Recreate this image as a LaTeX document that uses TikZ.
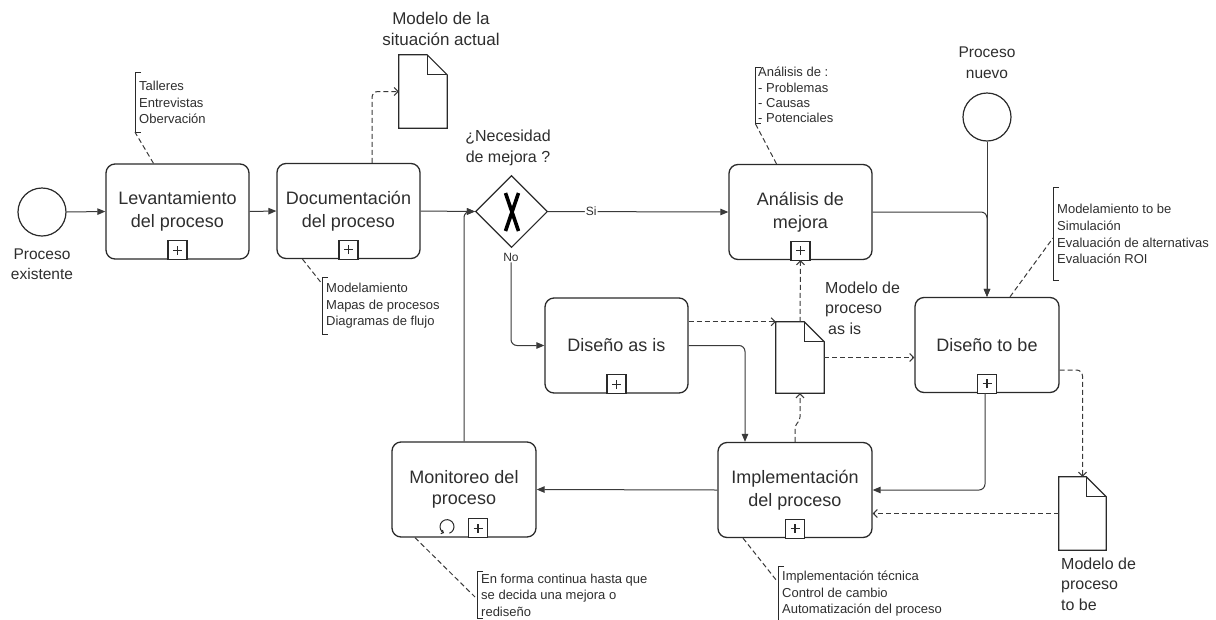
\documentclass[tikz,border=0pt]{standalone}
\usepackage{fontspec}
\setmainfont{Liberation Sans}
\usetikzlibrary{arrows.meta,shapes.geometric,calc}
\definecolor{lc}{HTML}{3A3A3A}
\definecolor{bc}{HTML}{2A2A2A}
\definecolor{tc}{HTML}{2E2E2E}
\newcommand{\plusmk}[2][0]{%
  \draw[bc,line width=1.1pt,fill=white] ($(#2.south)+(#1-9.5,0)$) rectangle ($(#2.south)+(#1+9.5,-19)$);
  \draw[bc,line width=1.1pt] ($(#2.south)+(#1-4.5,-9.5)$) -- ($(#2.south)+(#1+4.5,-9.5)$)
                              ($(#2.south)+(#1,-5)$) -- ($(#2.south)+(#1,-14)$);}
\newcommand{\docfold}[1]{%
  \draw[bc,line width=1.2pt,line join=miter] (#1.north west) -- ($(#1.north east)+(-20,0)$) -- ($(#1.north east)+(0,20)$) -- (#1.south east) -- (#1.south west) -- cycle;
  \draw[bc,line width=1.2pt] ($(#1.north east)+(-20,0)$) -- ($(#1.north east)+(-20,20)$) -- ($(#1.north east)+(0,20)$);}
\newcommand{\brk}[1]{%
  \draw[bc,line width=1pt] ($(#1.north west)+(6,0)$) -- (#1.north west) -- (#1.south west) -- ++(6,0);}
\begin{document}
\begin{tikzpicture}[x=1pt,y=-1pt,
  task/.style={draw=bc,line width=1.3pt,rounded corners=9pt,minimum width=143pt,minimum height=95pt,
    align=center,inner sep=0pt,text=tc,font=\fontsize{18}{23}\selectfont},
  event/.style={circle,draw=bc,line width=1.2pt,minimum size=48pt,inner sep=0pt},
  gate/.style={diamond,draw=bc,line width=1.1pt,minimum width=72pt,minimum height=72pt,inner sep=0pt},
  docnode/.style={minimum width=48pt,minimum height=73pt,inner sep=0pt},
  lbl/.style={align=center,text=tc,inner sep=0pt,font=\fontsize{16}{20.5}\selectfont},
  small/.style={text=tc,inner sep=1pt,font=\fontsize{12}{14}\selectfont},
  ann/.style={align=left,anchor=west,text=tc,inner xsep=4pt,inner ysep=0pt,font=\fontsize{13}{16.5}\selectfont},
  flow/.style={draw=lc,line width=1pt,rounded corners=6pt,-{Triangle[length=8pt,width=6.5pt]}},
  assoc/.style={draw=lc,line width=1pt,rounded corners=6pt,dash pattern=on 5pt off 3pt,-{Straight Barb[length=4pt,width=8pt]}},
  annline/.style={draw=lc,line width=1pt,dash pattern=on 5pt off 3pt}]
\useasboundingbox (0,0) rectangle (1216,619);

% events
\node[event] (ps) at (42,212) {};
\node[lbl,font=\fontsize{15.5}{20}\selectfont] (lps) at (42,264) {Proceso\\existente};
\node[event] (pn) at (987,117) {};
\node[lbl,font=\fontsize{15.5}{21}\selectfont] (lpn) at (987,63) {Proceso\\nuevo};

% tasks
\node[task] (lev) at (177.5,211.5) {Levantamiento\\del proceso};
\node[task] (doc) at (348.5,211) {Documentación\\del proceso};
\node[task] (ana) at (800.5,212) {Análisis de\\mejora};
\node[task] (asis) at (616.5,345.5) {Diseño as is};
\node[task,minimum width=144pt] (tobe) at (987,345) {Diseño to be};
\node[task,minimum width=154pt] (impl) at (795,490) {Implementación\\del proceso};
\node[task,minimum width=144pt,font=\fontsize{18}{21}\selectfont] (mon) at (464,489.5) {Monitoreo del\\proceso};
\plusmk{lev}\plusmk{doc}\plusmk{ana}\plusmk{asis}\plusmk{tobe}\plusmk{impl}\plusmk[14]{mon}
\draw[bc,line width=1pt,-{Straight Barb[length=2pt,width=4pt]}] ($(mon.south)+(-17,-11)+(70:7)$) arc[start angle=70,end angle=-245,radius=7];

% gateway
\node[gate] (gw) at (511.5,211.5) {};
\draw[black,line width=3.6pt] (505.5,193) -- (518.5,231) (518.5,193) -- (505.5,231);
\node[lbl] (lgw) at (508,148) {¿Necesidad\\de mejora ?};
\node[small] (lno) at (511,257) {No};

% documents
\node[docnode] (docA) at (423,91.5) {};
\node[docnode,minimum height=71pt] (docB) at (800,357.5) {};
\node[docnode,minimum width=47pt] (docC) at (1082.5,513.5) {};
\docfold{docA}\docfold{docB}\docfold{docC}
\node[lbl,font=\fontsize{17}{21}\selectfont] (ldocA) at (441,29) {Modelo de la\\situación actual};
\node[lbl,align=left,anchor=west] (ldocB) at (825,308) {Modelo de\\proceso\\\hspace*{3pt}as is};
\node[lbl,align=left,anchor=west] (ldocC) at (1061,584) {Modelo de\\proceso\\to be};

% sequence flows
\draw[flow] (ps.east) -- (lev.west);
\draw[flow] (lev.east) -- (doc.west);
\draw[flow] (doc.east) -- (gw.west);
\draw[flow] (mon.north) |- (gw.west);
\draw[flow] (gw.east) -- node[pos=0.24,small,fill=white] (lsi) {Si} (ana.west);
\draw[flow] (lno.south) |- (asis.west);
\draw[flow] (ana.east) -| (tobe.north);
\draw[flow] (pn.south) -- (tobe.north);
\draw[flow] (asis.east) -| ($(impl.north)+(-50,0)$);
\draw[flow] ($(tobe.south)+(-2,0)$) |- (impl.east);
\draw[flow] (impl.west) -- (mon.east);

% associations
\draw[assoc] ($(doc.north)+(23.5,0)$) |- (docA.west);
\draw[assoc] (asis.east |- docB.north) -- (docB.north west);
\draw[assoc] (docB.north) -- (ana.south);
\draw[assoc] (docB.east) -- (docB.east -| tobe.west);
\draw[assoc,rounded corners=3pt] (impl.north) -- ++(0,-16) -- ++(5,-6) -- (docB.south);
\draw[assoc] ($(tobe.east)+(0,25)$) -| (docC.north);
\draw[assoc] (docC.west) -- (docC.west -| impl.east);

% annotations
\node[ann,minimum height=59pt] (a1) at (135,102.5) {Talleres\\Entrevistas\\Obervación};
\node[ann,minimum height=56pt] (a2) at (322,306) {Modelamiento\\Mapas de procesos\\Diagramas de flujo};
\node[ann,minimum height=54pt,inner xsep=3pt,font=\fontsize{13}{15.3}\selectfont] (a3) at (755,95) {Análisis de :\\- Problemas\\- Causas\\- Potenciales};
\node[ann,minimum height=92pt,font=\fontsize{13}{16.7}\selectfont] (a4) at (1053,234) {Modelamiento to be\\Simulación\\Evaluación de alternativas\\Evaluación ROI};
\node[ann,minimum height=46pt] (a5) at (477,595) {En forma continua hasta que\\se decida una mejora o\\rediseño};
\node[ann,minimum height=54pt] (a6) at (778,594) {Implementación técnica\\Control de cambio\\Automatización del proceso};
\brk{a1}\brk{a2}\brk{a3}\brk{a4}\brk{a5}\brk{a6}
\draw[annline] ($(lev.north)+(-24,0)$) -- (a1.south west);
\draw[annline] ($(doc.south)+(-46,0)$) -- ($(a2.north west)+(0,6)$);
\draw[annline] ($(ana.north)+(-24,0)$) -- (a3.south west);
\draw[annline] ($(tobe.north)+(23,0)$) -- ($(a4.west)+(0,4)$);
\draw[annline] ($(mon.south)+(-49,0)$) -- ($(a5.west)+(-2,2)$);
\draw[annline] ($(impl.south)+(-52,0)$) -- ($(a6.north west)+(-2,13)$);
\end{tikzpicture}
\end{document}
